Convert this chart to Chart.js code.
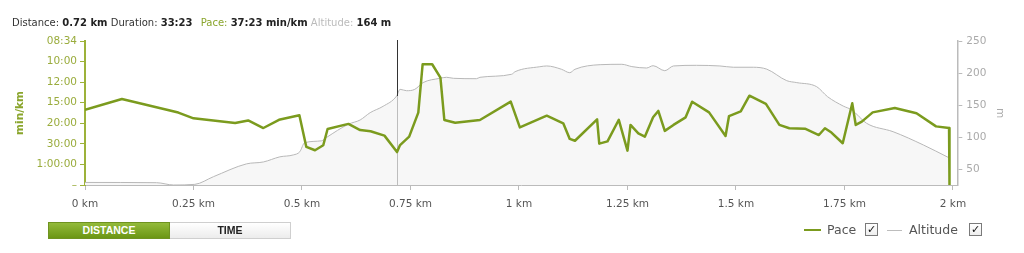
<!DOCTYPE html>
<html>
<head>
<meta charset="utf-8">
<script src="https://cdn.jsdelivr.net/npm/chart.js@4.4.1/dist/chart.umd.min.js"></script>
<style>
  html, body { margin:0; padding:0; background:#fff; }
  #wrap { position:relative; width:1024px; height:253px; overflow:hidden; font-family:"DejaVu Sans", sans-serif; }
  #c { position:absolute; left:0; top:0; }
  #hdr { position:absolute; left:12px; top:16px; font-size:10px; line-height:14px; color:#333; white-space:nowrap; }
  #hdr b { color:#222; }
  #hdr .pace { color:#8aa52c; margin-left:5px; }
  #hdr .alt { color:#bbb; }
  .btn { position:absolute; top:222px; height:15px; line-height:15px; width:120px; text-align:center;
         font-family:"Liberation Sans", Arial, sans-serif; font-weight:bold; font-size:10.5px; }
  #bd { left:48px; background:linear-gradient(#93ba3a,#6b9614); border:1px solid #6f9320; color:#fff; }
  #bt { left:170px; background:linear-gradient(#ffffff,#ececec); border:1px solid #cfcfcf; border-left:none; color:#222; }
  .lg { position:absolute; font-size:12.5px; color:#555; top:222px; line-height:16px; }
  .ln { position:absolute; height:0; }
  .cb { position:absolute; top:223px; width:11px; height:11px; border:1px solid #7a7a7a; background:linear-gradient(#fff,#eee);
        font-size:11px; line-height:11px; text-align:center; color:#111; font-weight:bold; }
</style>
</head>
<body>
<div id="wrap">
  <canvas id="c" width="1024" height="253"></canvas>
  <div id="hdr">Distance: <b>0.72 km</b> Duration: <b>33:23</b> <span class="pace">Pace:</span> <b>37:23 min/km</b> <span class="alt">Altitude:</span> <b>164 m</b></div>
  <div class="btn" id="bd">DISTANCE</div>
  <div class="btn" id="bt">TIME</div>
  <div class="ln" style="left:804px;top:229px;width:17px;border-top:2.5px solid #7b9b1e;"></div>
  <div class="lg" style="left:827px;">Pace</div>
  <div class="cb" style="left:865px;">✓</div>
  <div class="ln" style="left:887px;top:230px;width:15px;border-top:1px solid #bdbdbd;"></div>
  <div class="lg" style="left:909px;">Altitude</div>
  <div class="cb" style="left:969px;">✓</div>
</div>
<script>
// ---- data ----
const xTickValues = [0, 0.25, 0.5, 0.75, 1, 1.25, 1.5, 1.75, 2];
const paceTickValues = [0, 1, 2, 3, 4, 5, 6, 7];          // speed, km/h
const paceTickLabels = ['–', '1:00:00', '30:00', '20:00', '15:00', '12:00', '10:00', '08:34'];
const altTickValues = [50, 100, 150, 200, 250];

const paceKm = [0,0.085,0.215,0.25,0.346,0.376,0.411,0.447,0.494,0.510,0.530,0.549,0.559,0.607,0.634,0.658,0.690,0.719,0.726,
  0.747,0.768,0.778,0.800,0.819,0.828,0.853,0.910,0.981,1.002,1.064,1.102,1.117,1.129,1.180,1.185,1.204,1.230,1.250,1.257,
  1.275,1.290,1.309,1.321,1.336,1.356,1.384,1.399,1.438,1.476,1.484,1.511,1.531,1.569,1.600,1.623,1.659,1.691,1.705,1.720,
  1.746,1.768,1.776,1.790,1.815,1.866,1.916,1.961,1.991,1.992];
const paceSpeed = [3.65,4.18,3.52,3.24,3.01,3.14,2.77,3.17,3.39,1.85,1.69,1.93,2.72,2.97,2.67,2.61,2.40,1.60,1.94,
  2.35,3.52,5.87,5.87,5.22,3.16,3.03,3.16,4.05,2.80,3.37,3.00,2.24,2.15,3.19,2.01,2.12,3.17,1.67,2.92,
  2.51,2.35,3.29,3.60,2.63,2.92,3.29,4.05,3.53,2.38,3.35,3.58,4.34,3.94,2.92,2.76,2.74,2.43,2.76,2.55,
  2.03,3.97,2.92,3.08,3.53,3.74,3.49,2.85,2.77,0];

const altKm = [0,0.165,0.204,0.253,0.296,0.372,0.411,0.449,0.480,0.495,0.506,0.545,0.557,0.607,0.634,0.657,0.687,0.718,0.726,0.741,
  0.760,0.779,0.818,0.833,0.849,0.902,0.910,0.983,0.991,1.048,1.064,1.098,1.117,1.129,1.187,1.237,1.26,1.294,1.309,1.336,
  1.356,1.409,1.463,1.494,1.540,1.571,1.617,1.640,1.686,1.711,1.747,1.767,1.801,1.862,1.932,1.989];
const altM = [29,28.6,25,26,38,58,61,69,72,77,91,94,99.5,120,126.6,138,148,164,174.5,172.3,
  174.5,185,191.7,193.3,191.7,191.1,193.3,198,202,209.8,211,205.8,200.5,205.8,213,213.6,210,207.8,211.4,203.6,
  211,212,211,209,209,206,188,185,178.6,163,148.4,142.2,121.4,108.3,87.5,68.2];

const cursorKm = 0.72;
const cursorAlt = 164;

const paceData = paceKm.map((x, i) => ({ x, y: paceSpeed[i] }));
const altData = altKm.map((x, i) => ({ x, y: altM[i] }));

const GREEN = '#7b9b1e';
const GREEN_AXIS = '#9db23a';
const FONT = 'DejaVu Sans';

const cursorPlugin = {
  id: 'cursor',
  afterDatasetDraw(chart, args) {
    if (args.index !== 1) return;
    const ctx = chart.ctx;
    const xs = chart.scales.x, ya = chart.scales.y2, area = chart.chartArea;
    const px = Math.round(xs.getPixelForValue(cursorKm)) + 0.5;
    const pa = ya.getPixelForValue(cursorAlt);
    ctx.save();
    ctx.lineWidth = 1;
    ctx.strokeStyle = '#333';
    ctx.beginPath(); ctx.moveTo(px, area.top - 1); ctx.lineTo(px, pa); ctx.stroke();
    ctx.strokeStyle = '#bdbdbd';
    ctx.beginPath(); ctx.moveTo(px, pa); ctx.lineTo(px, area.bottom); ctx.stroke();
    ctx.restore();
  }
};

new Chart(document.getElementById('c'), {
  type: 'line',
  data: {
    datasets: [
      { label: 'Pace', data: paceData, yAxisID: 'y', borderColor: GREEN, borderWidth: 2.5,
        pointRadius: 0, tension: 0, fill: false, order: 0, borderJoinStyle: 'round' },
      { label: 'Altitude', data: altData, yAxisID: 'y2', borderColor: '#b8b8b8', borderWidth: 1,
        backgroundColor: '#f7f7f7', pointRadius: 0, cubicInterpolationMode: 'monotone', fill: 'start', order: 1 }
    ]
  },
  options: {
    responsive: false,
    animation: false,
    events: [],
    layout: { padding: { left: 14, right: 18, top: 41, bottom: 38 } },
    plugins: { legend: { display: false }, tooltip: { enabled: false } },
    scales: {
      x: {
        type: 'linear', min: 0, max: 2.01,
        afterBuildTicks: s => { s.ticks = xTickValues.map(v => ({ value: v })); },
        afterFit: s => { s.height = 30; },
        ticks: { callback: v => v + ' km', color: '#555', font: { family: FONT, size: 10.5 }, padding: 8, maxRotation: 0 },
        grid: { drawOnChartArea: false, tickLength: 5, color: '#bbb' },
        border: { color: '#bbb', width: 1 }
      },
      y: {
        type: 'linear', position: 'left', min: 0, max: 7,
        afterBuildTicks: s => { s.ticks = paceTickValues.map(v => ({ value: v })); },
        afterFit: s => { s.width = 71; },
        ticks: { callback: v => paceTickLabels[paceTickValues.indexOf(v)], color: '#9aac3d',
                 font: { family: FONT, size: 10.5 }, padding: 3 },
        grid: { drawOnChartArea: false, tickLength: 5, color: GREEN_AXIS },
        border: { color: GREEN_AXIS, width: 2 },
        title: { display: true, text: 'min/km', color: '#8aa52c', font: { family: FONT, size: 10.5, weight: 'bold' }, padding: 0 }
      },
      y2: {
        type: 'linear', position: 'right', min: 25, max: 250,
        afterBuildTicks: s => { s.ticks = altTickValues.map(v => ({ value: v })); },
        afterFit: s => { s.width = 48.7; },
        ticks: { color: '#aaa', font: { family: FONT, size: 10.5 }, padding: 4 },
        grid: { drawOnChartArea: false, tickLength: 5, color: '#bbb' },
        border: { color: '#bbb', width: 1.5 },
        title: { display: true, text: 'm', color: '#aaa', font: { family: FONT, size: 10.5 }, padding: 0 }
      }
    }
  },
  plugins: [cursorPlugin]
});
</script>
</body>
</html>
